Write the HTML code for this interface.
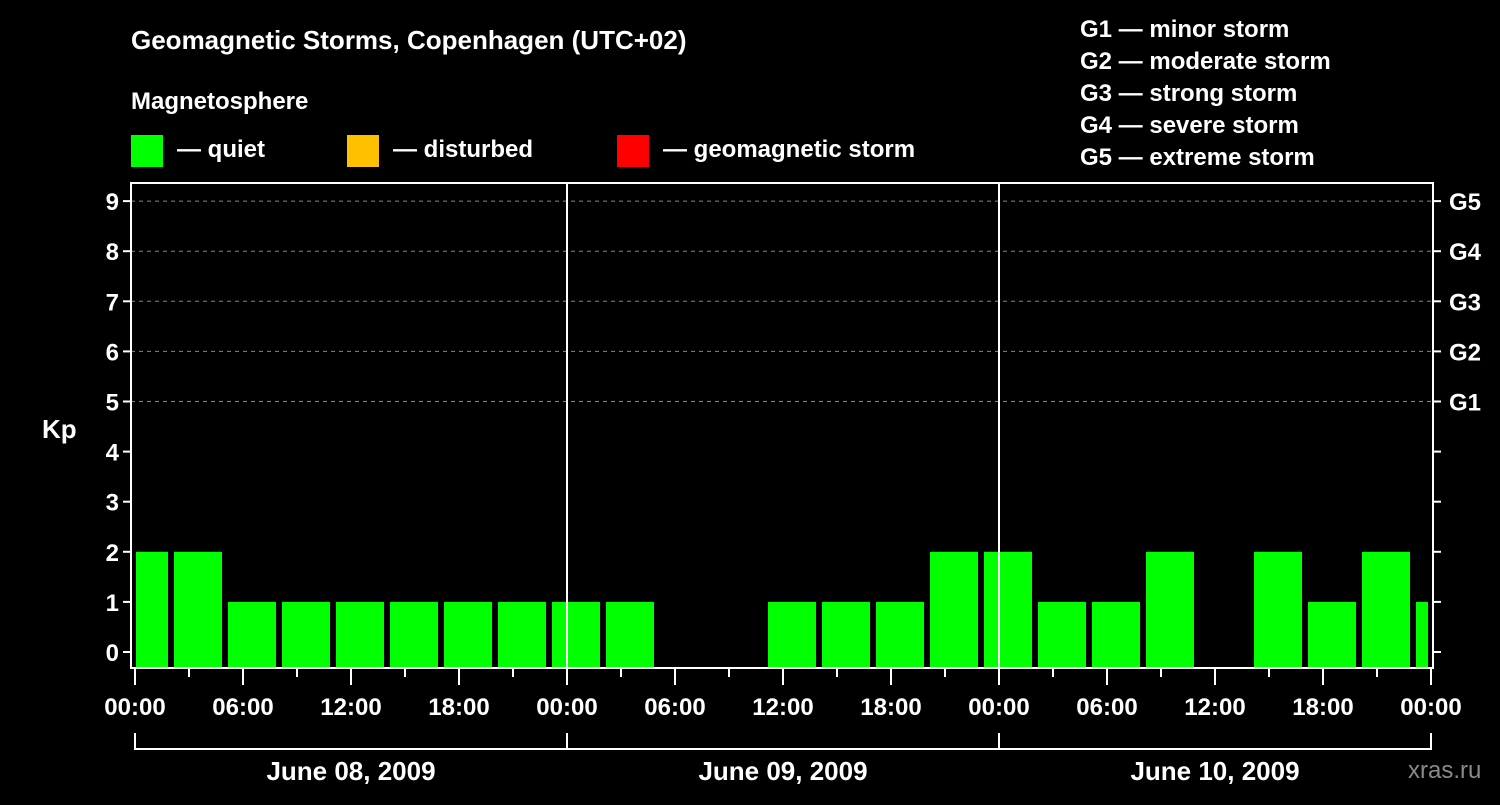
<!DOCTYPE html>
<html><head><meta charset="utf-8"><style>
body{margin:0;background:#000;}
svg text{font-family:"Liberation Sans",Arial,sans-serif;font-weight:bold;fill:#fff;}
</style></head><body>
<svg id="c" width="1500" height="800" viewBox="0 0 1500 800">
<rect width="1500" height="800" fill="#000"/>
<text x="131" y="49" font-size="26">Geomagnetic Storms, Copenhagen (UTC+02)</text>
<text x="131" y="109" font-size="24">Magnetosphere</text>
<g><rect x="131" y="135" width="32" height="32" fill="#00ff00"/><text x="177" y="157" font-size="24">— quiet</text></g>
<g><rect x="347" y="135" width="32" height="32" fill="#ffc000"/><text x="393" y="157" font-size="24">— disturbed</text></g>
<g><rect x="617" y="135" width="32" height="32" fill="#ff0000"/><text x="663" y="157" font-size="24">— geomagnetic storm</text></g>
<g font-size="24">
<text x="1080" y="37" font-size="24">G1 — minor storm</text>
<text x="1080" y="69" font-size="24">G2 — moderate storm</text>
<text x="1080" y="101" font-size="24">G3 — strong storm</text>
<text x="1080" y="133" font-size="24">G4 — severe storm</text>
<text x="1080" y="165" font-size="24">G5 — extreme storm</text>
</g>
<text x="42" y="438" font-size="26">Kp</text>
<text x="1408" y="778" font-size="24" fill="#888" style="fill:#8a8a8a;font-weight:normal">xras.ru</text>
<g id="grid"></g><g id="bars"></g><g id="axes"></g>
</svg>
<script>
const kpValues=[2,2,1,1,1,1,1,1,1,1,0,0,1,1,1,2,2,1,1,2,0,2,1,2,1];
const barStartHours=[-1,2,5,8,11,14,17,20,23,26,29,32,35,38,41,44,47,50,53,56,59,62,65,68,71];
const yTicks=[0,1,2,3,4,5,6,7,8,9];
const gLabels=["G1","G2","G3","G4","G5"];
const xLabels=["00:00","06:00","12:00","18:00","00:00","06:00","12:00","18:00","00:00","06:00","12:00","18:00","00:00"];
const dayLabels=["June 08, 2009","June 09, 2009","June 10, 2009"];
const NS="http://www.w3.org/2000/svg";
const X0=135,PXH=18,Y0=652,PXK=50.1,L=131,R=1433,T=183,B=668;
const x=h=>X0+h*PXH, y=k=>Y0-k*PXK;
function mk(tag,attrs,parent){const e=document.createElementNS(NS,tag);for(const k in attrs)e.setAttribute(k,attrs[k]);document.getElementById(parent).appendChild(e);return e;}
// grid
for(let k=5;k<=9;k++){const e=mk('line',{x1:L,x2:R,y1:y(k),y2:y(k),stroke:'#888','stroke-dasharray':'4,4','stroke-width':1},'grid');

}
// bars
kpValues.forEach((v,i)=>{if(v<=0)return;let a=Math.max(x(barStartHours[i])+3,X0+1),b=Math.min(x(barStartHours[i]+3)-3,R-5);
const r=mk('rect',{x:a,y:y(v),width:b-a,height:B-1-y(v),fill:'#00ff00'},'bars');

});
// frame
const f=mk('rect',{x:L,y:T,width:R-L,height:B-T,fill:'none',stroke:'#fff','stroke-width':2},'axes');


[24,48].forEach(h=>{const l=mk('line',{x1:x(h),x2:x(h),y1:T,y2:B,stroke:'#fff','stroke-width':2},'axes');

});
yTicks.forEach(k=>{mk('line',{x1:L-8,x2:L,y1:y(k),y2:y(k),stroke:'#fff','stroke-width':2},'axes');
mk('line',{x1:R,x2:R+8,y1:y(k),y2:y(k),stroke:'#fff','stroke-width':2},'axes');
const t=mk('text',{x:L-12,y:y(k)+9,'text-anchor':'end','font-size':24},'axes');t.textContent=k;

});
gLabels.forEach((g,i)=>{const t=mk('text',{x:1449,y:y(5+i)+9,'font-size':24},'axes');t.textContent=g;

});
for(let h=0;h<=72;h+=3){mk('line',{x1:x(h),x2:x(h),y1:B,y2:h%6?677:685,stroke:'#fff','stroke-width':2},'axes');}
xLabels.forEach((s,i)=>{const t=mk('text',{x:x(i*6),y:715,'text-anchor':'middle','font-size':24},'axes');t.textContent=s;

});
mk('path',{d:`M${x(0)} 733V749H${x(72)}V733M${x(24)} 733V749M${x(48)} 733V749`,fill:'none',stroke:'#fff','stroke-width':2},'axes');
dayLabels.forEach((s,i)=>{const t=mk('text',{x:x(i*24+12),y:780,'text-anchor':'middle','font-size':26},'axes');t.textContent=s;

});
</script>
</body></html>
